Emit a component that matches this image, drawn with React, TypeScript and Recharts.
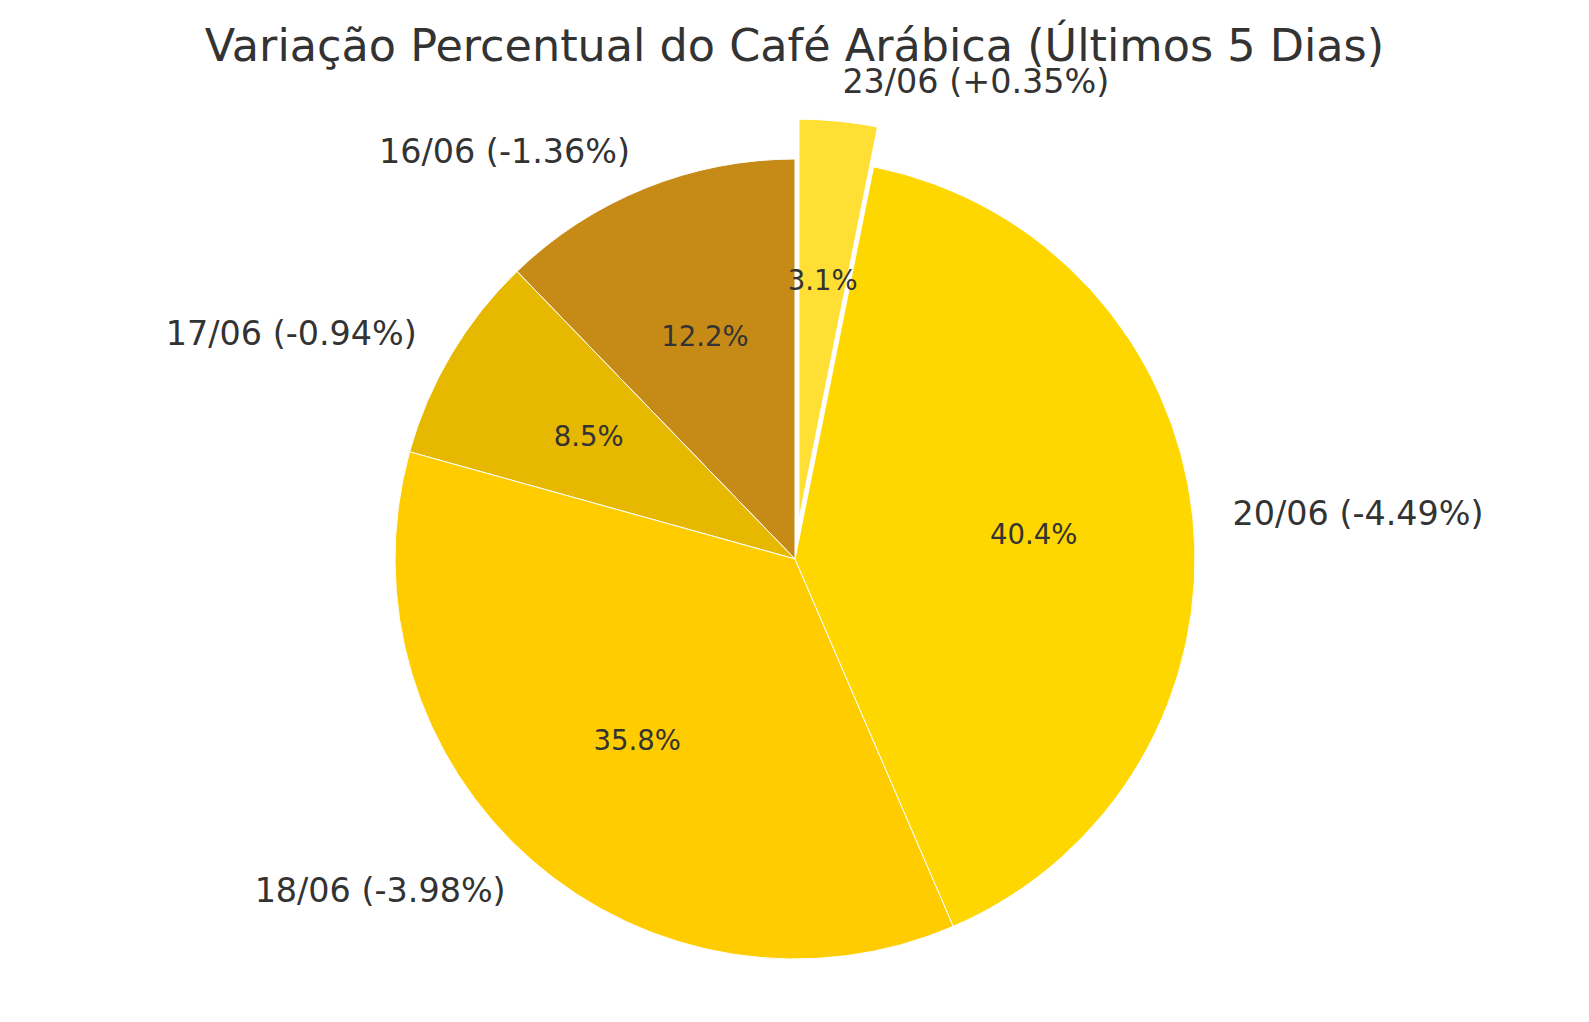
import { PieChart, Pie, Cell } from "recharts";

// Variação do café arábica nos últimos pregões
const dates = ["16/06", "17/06", "18/06", "20/06", "23/06"];
const changes = [-1.36, -0.94, -3.98, -4.49, 0.35];
const colors = ["#C68B17", "#E6B800", "#FFCC00", "#FFD700", "#FFDF33"];
const explode = [0, 0, 0, 0, 0.1];

const W = 1589;
const H = 1022;
const CX = 795;
const CY = 559;
const R = 400;
const RADIAN = Math.PI / 180;
const FONT = '"DejaVu Sans", sans-serif';
const TEXT = "#333333";

const data = dates.map((d, i) => ({
  name: `${d} (${changes[i] > 0 ? "+" : ""}${changes[i].toFixed(2)}%)`,
  value: Math.abs(changes[i]),
}));
const total = data.reduce((s, d) => s + d.value, 0);

// mid angle of each slice (start at 90°, counterclockwise)
const midAngle = (i: number) => {
  const before = data.slice(0, i).reduce((s, d) => s + d.value, 0);
  return 90 + (360 * (before + data[i].value / 2)) / total;
};

// groups: slices drawn at the base center, then one per exploded slice
const groups: { idx: number[]; cx: number; cy: number }[] = [
  { idx: data.map((_, i) => i).filter((i) => !explode[i]), cx: CX, cy: CY },
  ...data
    .map((_, i) => i)
    .filter((i) => explode[i])
    .map((i) => ({
      idx: [i],
      cx: CX + explode[i] * R * Math.cos(midAngle(i) * RADIAN),
      cy: CY - explode[i] * R * Math.sin(midAngle(i) * RADIAN),
    })),
];

const makeLabel = (idx: number[]) => (props: any) => {
  const { cx, cy, midAngle: ma, outerRadius, percent, index, name } = props;
  if (!idx.includes(index)) return null;
  const c = Math.cos(-ma * RADIAN);
  const s = Math.sin(-ma * RADIAN);
  const lx = cx + outerRadius * 1.1 * c;
  const ly = cy + outerRadius * 1.1 * s;
  const px = cx + outerRadius * 0.6 * c;
  const py = cy + outerRadius * 0.6 * s;
  return (
    <g>
      <text
        x={lx}
        y={ly}
        fill={TEXT}
        fontSize={33.4}
        fontFamily={FONT}
        textAnchor={c > 0 ? "start" : "end"}
        dominantBaseline="central"
      >
        {name}
      </text>
      <text
        x={px}
        y={py}
        fill={TEXT}
        fontSize={27.5}
        fontFamily={FONT}
        textAnchor="middle"
        dominantBaseline="central"
      >
        {`${(percent * 100).toFixed(1)}%`}
      </text>
    </g>
  );
};

export default function App() {
  return (
    <div style={{ position: "absolute", left: 0, top: 0, width: W, height: H, background: "#fff" }}>
      <div
        style={{
          position: "absolute",
          left: 0,
          top: 24,
          width: W,
          textAlign: "center",
          fontFamily: FONT,
          fontSize: 44.5,
          lineHeight: "44px",
          color: TEXT,
        }}
      >
        Variação Percentual do Café Arábica (Últimos 5 Dias)
      </div>
      <PieChart
        width={W}
        height={H}
        margin={{ top: 0, right: 0, bottom: 0, left: 0 }}
        style={{ position: "absolute", left: 0, top: 0 }}
      >
        {groups.map((g, gi) => (
          <Pie
            key={gi}
            data={data}
            dataKey="value"
            nameKey="name"
            cx={g.cx}
            cy={g.cy}
            outerRadius={R}
            startAngle={90}
            endAngle={450}
            label={makeLabel(g.idx)}
            labelLine={false}
            isAnimationActive={false}
          >
            {data.map((_, i) => (
              <Cell
                key={i}
                fill={g.idx.includes(i) ? colors[i] : "none"}
                stroke={g.idx.includes(i) ? "#ffffff" : "none"}
                strokeWidth={1}
              />
            ))}
          </Pie>
        ))}
      </PieChart>
    </div>
  );
}
